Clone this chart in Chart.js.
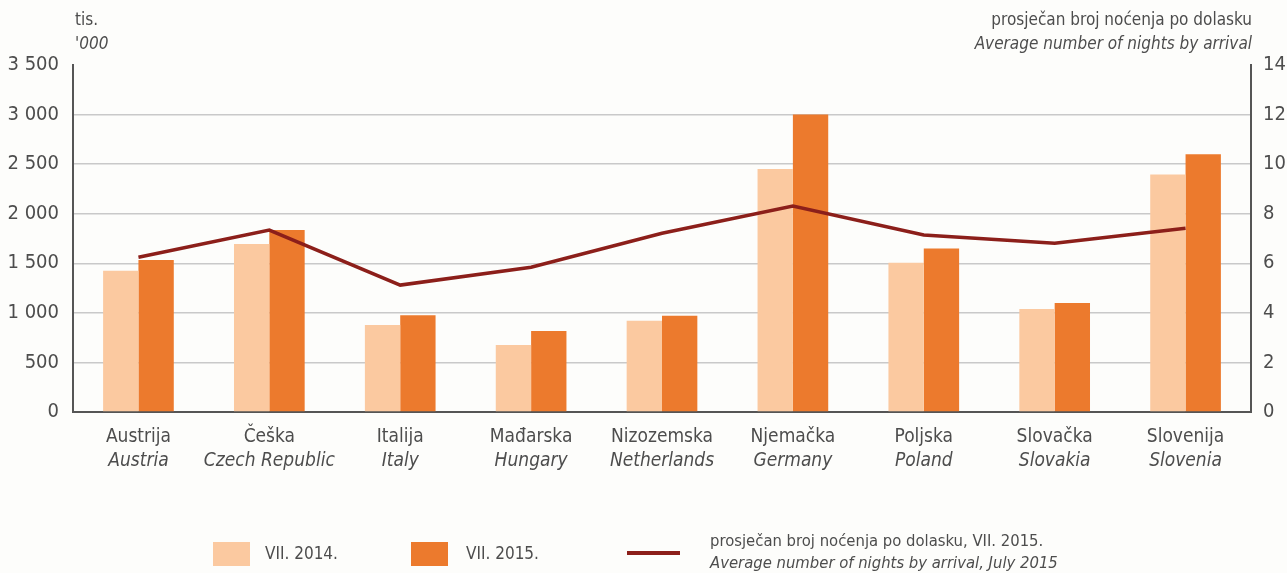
<!DOCTYPE html>
<html>
<head>
<meta charset="utf-8">
<script src="https://cdn.jsdelivr.net/npm/chart.js@4/dist/chart.umd.min.js"></script>
<style>
  html, body { margin: 0; padding: 0; background: #fdfdfb; }
  #wrap { position: relative; width: 1287px; height: 573px; overflow: hidden; background: #fdfdfb; }
  canvas { position: absolute; left: 0; top: 0; }
  .lg { position: absolute; font-family: 'Liberation Sans Narrow', 'DejaVu Sans Condensed', 'Roboto', sans-serif; color: #4d4d4d; font-size: 17px; white-space: nowrap; }
  .sw { position: absolute; }
</style>
</head>
<body>
<div id="wrap">
  <canvas id="c" width="1287" height="573"></canvas>
  <div class="sw" style="left:213px;top:542px;width:37px;height:24px;background:#fbc9a0;"></div>
  <div class="lg" style="left:265px;top:543px;">VII. 2014.</div>
  <div class="sw" style="left:411px;top:542px;width:37px;height:24px;background:#ec7a2d;"></div>
  <div class="lg" style="left:466px;top:543px;">VII. 2015.</div>
  <div class="sw" style="left:627px;top:551px;width:53px;height:4px;background:#8c1f1a;"></div>
  <div class="lg" style="left:710px;top:531px;font-size:16.5px;">prosječan broj noćenja po dolasku, VII. 2015.</div>
  <div class="lg" style="left:710px;top:553px;font-size:16.5px;font-style:italic;">Average number of nights by arrival, July 2015</div>
</div>
<script>
const categoriesHr = ['Austrija','Češka','Italija','Mađarska','Nizozemska','Njemačka','Poljska','Slovačka','Slovenija'];
const categoriesEn = ['Austria','Czech Republic','Italy','Hungary','Netherlands','Germany','Poland','Slovakia','Slovenia'];
const jul2014 = [1425, 1695, 877, 676, 920, 2450, 1505, 1040, 2395];
const jul2015 = [1533, 1836, 975, 817, 970, 3000, 1650, 1099, 2600];
const avgNights = [6.24, 7.34, 5.12, 5.84, 7.21, 8.31, 7.14, 6.81, 7.41];
const leftTicks = [0, 500, 1000, 1500, 2000, 2500, 3000, 3500];
const rightTicks = [0, 2, 4, 6, 8, 10, 12, 14];

const FONT = "'Liberation Sans Narrow', 'DejaVu Sans Condensed', 'Roboto', sans-serif";
const TXT = '#4d4d4d';
const fmt = v => String(v).replace(/\B(?=(\d{3})+(?!\d))/g, ' ');

const PLOT_L = 73, PLOT_R = 1251, PLOT_T = 65, PLOT_B = 412;

const extras = {
  id: 'extras',
  afterDraw(chart) {
    const ctx = chart.ctx;
    const x = chart.scales.x;
    ctx.save();
    ctx.fillStyle = TXT;
    ctx.textAlign = 'center';
    ctx.textBaseline = 'middle';
    categoriesHr.forEach((c, i) => {
      const px = x.getPixelForValue(i);
      ctx.font = '19px ' + FONT;
      ctx.fillText(c, px, 437);
      ctx.font = 'italic 19px ' + FONT;
      ctx.fillText(categoriesEn[i], px, 461);
    });
    ctx.textAlign = 'left';
    ctx.font = '17px ' + FONT;
    ctx.fillText('tis.', 75, 21);
    ctx.font = 'italic 17px ' + FONT;
    ctx.fillText("'000", 75, 45);
    ctx.textAlign = 'right';
    ctx.font = '17px ' + FONT;
    ctx.fillText('prosječan broj noćenja po dolasku', 1252, 21);
    ctx.font = 'italic 17px ' + FONT;
    ctx.fillText('Average number of nights by arrival', 1252, 45);
    ctx.restore();
  }
};

new Chart(document.getElementById('c'), {
  data: {
    labels: categoriesHr,
    datasets: [
      { type: 'line', data: avgNights, yAxisID: 'y1', borderColor: '#8c1f1a', borderWidth: 3.5, pointRadius: 0, tension: 0, order: 0 },
      { type: 'bar', data: jul2014, yAxisID: 'y', backgroundColor: '#fbc9a0', categoryPercentage: 0.54, barPercentage: 1, order: 1 },
      { type: 'bar', data: jul2015, yAxisID: 'y', backgroundColor: '#ec7a2d', categoryPercentage: 0.54, barPercentage: 1, order: 1 }
    ]
  },
  options: {
    responsive: false,
    animation: false,
    layout: { padding: { top: PLOT_T, left: 0, right: 0, bottom: 0 } },
    plugins: { legend: { display: false }, tooltip: { enabled: false } },
    scales: {
      x: {
        grid: { display: false },
        border: { color: '#555', width: 2 },
        ticks: { display: false },
        afterFit(s) { s.height = 573 - PLOT_B; }
      },
      y: {
        position: 'left',
        min: 0, max: 3500,
        afterBuildTicks(s) { s.ticks = leftTicks.map(v => ({ value: v })); },
        ticks: { color: TXT, font: { family: FONT, size: 20 }, padding: 14, callback: v => fmt(v) },
        grid: { color: c => (c.tick && c.tick.value === 3500) ? 'rgba(0,0,0,0)' : '#c9c9c9', lineWidth: 1.5, drawTicks: false },
        border: { color: '#555', width: 2 },
        afterFit(s) { s.width = PLOT_L; }
      },
      y1: {
        position: 'right',
        min: 0, max: 14,
        afterBuildTicks(s) { s.ticks = rightTicks.map(v => ({ value: v })); },
        ticks: { color: TXT, font: { family: FONT, size: 20 }, padding: 12 },
        grid: { display: false, drawTicks: false },
        border: { color: '#555', width: 2 },
        afterFit(s) { s.width = 1287 - PLOT_R; }
      }
    }
  },
  plugins: [extras]
});
</script>
</body>
</html>
